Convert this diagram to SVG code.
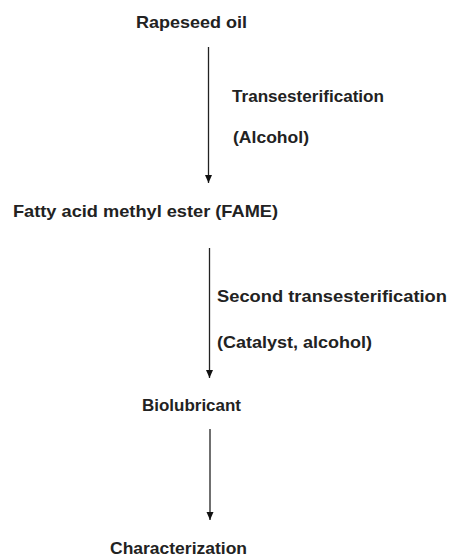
<svg xmlns="http://www.w3.org/2000/svg" width="452" height="557" viewBox="0 0 452 557">
<defs>
<style>
text{font-family:"Liberation Sans",Arial,sans-serif;font-size:16.5px;font-weight:bold;fill:#222}
.c line{stroke:#222;stroke-width:1.3}
</style>
<marker id="ah" viewBox="0 0 8 10" refX="8" refY="5" markerWidth="8" markerHeight="10" markerUnits="userSpaceOnUse" orient="auto">
<path d="M0,1.5 L8,5 L0,8.5 Z" fill="#111"/>
</marker>
</defs>
<rect width="452" height="557" fill="#fff"/>
<g id="rapeseed"><text x="136" y="28" textLength="111" lengthAdjust="spacingAndGlyphs">Rapeseed oil</text></g>
<g id="fame"><text x="13" y="217" textLength="265" lengthAdjust="spacingAndGlyphs">Fatty acid methyl ester (FAME)</text></g>
<g id="biolubricant"><text x="142" y="411" textLength="99" lengthAdjust="spacingAndGlyphs">Biolubricant</text></g>
<g id="characterization"><text x="110" y="554" textLength="137" lengthAdjust="spacingAndGlyphs">Characterization</text></g>
<g id="labels">
<text x="232" y="102" textLength="152" lengthAdjust="spacingAndGlyphs">Transesterification</text>
<text x="233" y="143" textLength="76" lengthAdjust="spacingAndGlyphs">(Alcohol)</text>
<text x="217" y="302" textLength="230" lengthAdjust="spacingAndGlyphs">Second transesterification</text>
<text x="217" y="348" textLength="155" lengthAdjust="spacingAndGlyphs">(Catalyst, alcohol)</text>
</g>
<g id="connectors" class="c">
<line x1="208.5" y1="47" x2="208.5" y2="183" marker-end="url(#ah)"/>
<line x1="209.5" y1="248" x2="209.5" y2="378" marker-end="url(#ah)"/>
<line x1="210" y1="429" x2="210" y2="520" marker-end="url(#ah)"/>
</g>
</svg>
